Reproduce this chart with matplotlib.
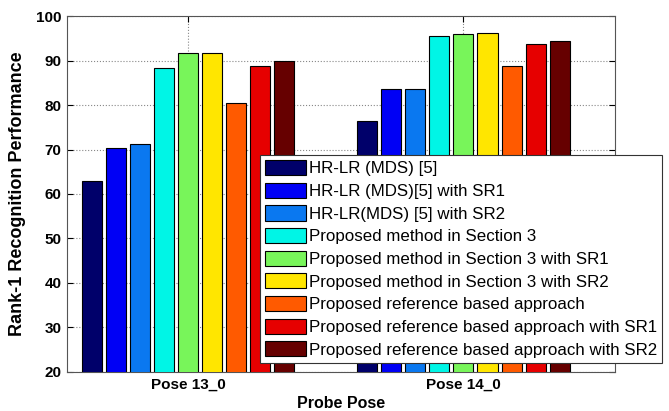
import matplotlib.pyplot as plt
import numpy as np

plt.rcParams['font.family'] = ['Liberation Sans', 'DejaVu Sans']

poses = ["Pose 13_0", "Pose 14_0"]
methods = ["HR-LR (MDS) [5]",
           "HR-LR (MDS)[5] with SR1",
           "HR-LR(MDS) [5] with SR2",
           "Proposed method in Section 3",
           "Proposed method in Section 3 with SR1",
           "Proposed method in Section 3 with SR2",
           "Proposed reference based approach",
           "Proposed reference based approach with SR1",
           "Proposed reference based approach with SR2"]
pose13 = [63.0, 70.3, 71.3, 88.3, 91.8, 91.8, 80.4, 88.7, 89.8]
pose14 = [76.4, 83.7, 83.7, 95.6, 96.0, 96.2, 88.8, 93.8, 94.3]
colors = ["#00006a", "#0000f5", "#0a78f0", "#00f5e6", "#78f55a",
          "#ffe600", "#ff5a00", "#e60000", "#660000"]

fig = plt.figure(figsize=(6.69, 4.11), dpi=100)
ax = fig.add_axes([0.1, 0.095, 0.819, 0.866])

x = np.arange(1, len(poses) + 1)
pitch = 0.0875
width = 0.073
vals = np.array([pose13, pose14])
for i, m in enumerate(methods):
    ax.bar(x + (i - 4) * pitch, vals[:, i], width, bottom=0, color=colors[i],
           edgecolor='black', linewidth=0.8, label=m, zorder=3)

ax.set_ylim(20, 100)
ax.set_xlim(0.56, 2.55)
ax.set_xticks(x)
ax.set_xticklabels(poses, fontweight='bold', fontsize=11)
ax.set_yticks(np.arange(20, 101, 10))
ax.set_yticklabels([str(v) for v in range(20, 101, 10)], fontweight='bold', fontsize=11)
ax.tick_params(direction='in', length=4, top=True, right=True, pad=4)
ax.grid(True, linestyle=':', color='#888888', linewidth=0.8, zorder=0)
for s in ax.spines.values():
    s.set_color('#555555')
ax.set_ylabel("Rank-1 Recognition Performance", fontweight='bold', fontsize=13)
ax.yaxis.set_label_coords(-0.075, 0.5)
ax.set_xlabel("Probe Pose", fontweight='bold', fontsize=11.5)
ax.xaxis.set_label_coords(0.5, -0.068)

leg = fig.legend(loc='upper left', bbox_to_anchor=(0.389, 0.623), fontsize=12.2,
                 handlelength=2.4, handleheight=1.0, labelspacing=0.37,
                 handletextpad=0.15, borderpad=0.3, borderaxespad=0,
                 fancybox=False, framealpha=1, edgecolor='#333333')
leg.get_frame().set_linewidth(0.8)

fig.savefig("out.png", dpi=100)
